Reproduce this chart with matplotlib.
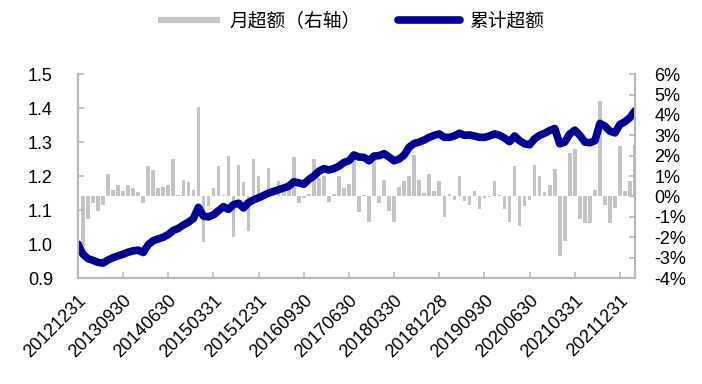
import matplotlib.pyplot as plt
from matplotlib.lines import Line2D
from matplotlib.ticker import FuncFormatter
import numpy as np

plt.rcParams['font.family'] = ['Liberation Sans', 'DejaVu Sans']

# 月超额（%，右轴），2012-12 起逐月
monthly = [
    0.0, -2.45, -1.1, -0.3, -0.7, -0.4, 1.1, 0.34, 0.58, 0.26,
    0.55, 0.42, 0.2, -0.32, 1.47, 1.3, 0.42, 0.47, 0.55, 1.84,
    0.06, 0.82, 0.7, 0.34, 4.4, -2.24, -0.47, 0.42, 1.47, 0.06,
    2.0, -2.0, 1.55, 0.7, -1.68, 1.84, 0.98, 0.1, 1.39, 0.1,
    0.74, 0.45, 0.39, 1.95, -0.3, -0.1, 0.1, 1.82, 0.9, 1.0,
    -0.26, 0.1, 0.98, 0.42, 0.6, 2.0, -0.74, 0.05, -1.27, 1.8,
    -0.34, 0.82, -0.7, -1.27, 0.47, 0.74, 0.98, 2.03, 0.82, 0.18,
    1.1, 0.26, 0.74, -1.03, 0.13, -0.18, 1.0, -0.23, -0.42, 0.26,
    -0.63, -0.1, -0.03, 0.74, 0.06, -0.63, -1.27, 1.47, -1.43, -0.47,
    -0.18, 1.55, 0.98, 0.2, 0.56, 1.34, -2.9, -2.2, 2.15, 2.35,
    -1.1, -1.3, -1.3, 0.34, 4.66, -0.44, -1.3, -0.55, 2.47, 0.26,
    0.74, 2.5,
]

# 累计超额（左轴）
cumulative = [
    1.000, 0.970, 0.957, 0.952, 0.946, 0.944, 0.953, 0.960, 0.965, 0.970,
    0.976, 0.980, 0.982, 0.975, 0.998, 1.010, 1.015, 1.020, 1.028, 1.040,
    1.046, 1.056, 1.064, 1.075, 1.108, 1.082, 1.080, 1.086, 1.098, 1.110,
    1.102, 1.116, 1.120, 1.106, 1.122, 1.130, 1.136, 1.143, 1.150, 1.155,
    1.160, 1.165, 1.170, 1.183, 1.180, 1.176, 1.190, 1.200, 1.214, 1.222,
    1.218, 1.222, 1.229, 1.240, 1.245, 1.262, 1.256, 1.255, 1.245, 1.259,
    1.260, 1.266, 1.256, 1.245, 1.250, 1.262, 1.285, 1.296, 1.300, 1.306,
    1.314, 1.320, 1.324, 1.314, 1.314, 1.318, 1.326, 1.320, 1.321, 1.318,
    1.314, 1.314, 1.318, 1.324, 1.320, 1.312, 1.301, 1.318, 1.304, 1.295,
    1.292, 1.310, 1.320, 1.326, 1.334, 1.340, 1.295, 1.300, 1.324, 1.335,
    1.320, 1.300, 1.298, 1.304, 1.355, 1.347, 1.332, 1.327, 1.352, 1.360,
    1.372, 1.392,
]

tick_labels = ['20121231', '20130930', '20140630', '20150331', '20151231',
               '20160930', '20170630', '20180330', '20181228', '20190930',
               '20200630', '20210331', '20211231']

x = np.arange(len(cumulative))
tick_pos = np.arange(0, len(tick_labels) * 9, 9)

bar_color = '#C3C3C3'
line_color = '#000096'
axis_color = '#B8B8B8'

fig = plt.figure(figsize=(7.02, 3.84), dpi=100)
ax = fig.add_axes([0.111, 0.276, 0.7936, 0.531])
ax2 = ax.twinx()

ax2.bar(x, monthly, width=0.72, color=bar_color, linewidth=0)
ax.plot(x, cumulative, color=line_color, linewidth=5.5, solid_capstyle='round',
        solid_joinstyle='round')

ax.set_zorder(ax2.get_zorder() + 1)
ax.patch.set_visible(False)

ax.set_xlim(0, len(x) - 1)
ax.set_ylim(0.9, 1.5)
ax.set_yticks(np.arange(0.9, 1.51, 0.1))
ax.yaxis.set_major_formatter(FuncFormatter(lambda v, p: f'{v:.1f}'))
ax2.set_ylim(-4, 6)
ax2.set_yticks(np.arange(-4, 7, 1))
ax2.yaxis.set_major_formatter(FuncFormatter(lambda v, p: f'{v:.0f}%'))

ax.set_xticks(tick_pos)
ax.set_xticklabels(tick_labels, rotation=45, ha='right', rotation_mode='anchor')

for a in (ax, ax2):
    for s in a.spines.values():
        s.set_color(axis_color)
        s.set_linewidth(1.5)
    a.spines['top'].set_visible(False)

ax.tick_params(axis='y', direction='in', length=4, width=1.2, color=axis_color,
               labelsize=13, pad=18)
ax.tick_params(axis='x', direction='in', length=4, width=1.2, color=axis_color,
               labelsize=13, pad=10)
ax2.tick_params(axis='y', direction='in', length=4, width=1.2, color=axis_color,
                labelsize=13, pad=14)

handles = [
    Line2D([0], [0], color=bar_color, linewidth=4.5, solid_capstyle='butt'),
    Line2D([0], [0], color=line_color, linewidth=5.5, solid_capstyle='round'),
]
fig.legend(handles, ['月超额（右轴）', '累计超额'], loc='center',
           bbox_to_anchor=(0.5, 0.945), ncol=2, frameon=False,
           handlelength=3.3, columnspacing=2.0, handletextpad=0.5,
           prop={'family': ['Noto Sans CJK SC', 'DejaVu Sans'], 'size': 13.5})

fig.savefig('out.png', dpi=100)
